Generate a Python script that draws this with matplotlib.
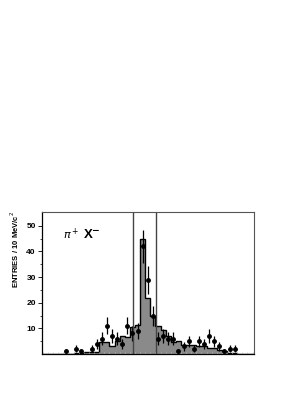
import numpy as np
import matplotlib.pyplot as plt

# histogram (MC / fit), one value per 10 MeV bin
hist_vals = [0, 0, 0, 0, 0, 0, 0.5, 0.5, 0.8, 0.8, 0.8, 4.5, 4.5, 3, 5, 7, 6.5,
             10.5, 11.5, 45, 22, 15, 11, 9.5, 7, 4.5, 5, 3.5, 3.5, 3.5, 3, 3,
             2.5, 2.5, 1.5, 1, 0.5, 0.5, 0, 0, 0, 0]

# data points: bin index, entries, error
pt_bins = [4, 6, 7, 9, 10, 11, 12, 13, 14, 15, 16, 17, 18, 19, 20, 21, 22,
           23, 24, 25, 26, 27, 28, 29, 30, 31, 32, 33, 34, 35, 36, 37]
pt_vals = [1, 2, 1, 2, 4, 6, 11, 7, 6, 4, 11, 8, 9, 42, 29, 15, 6,
           7, 6, 6, 1, 3, 5, 2, 5, 4, 7, 5, 3, 1, 2, 2]
pt_errs = [1, 1.4, 1, 1.4, 2, 2.4, 3.3, 2.6, 2.4, 2, 3.3, 2.8, 3, 6.5, 5.4, 3.9, 2.4,
           2.6, 2.4, 2.4, 1, 1.7, 2.2, 1.4, 2.2, 2, 2.6, 2.2, 1.7, 1, 1.4, 1.4]

# signal window
cut_lo, cut_hi = 17.54, 22.1

plt.rcParams['font.family'] = ['Liberation Sans', 'DejaVu Sans']

fig = plt.figure(figsize=(3.05, 3.95), dpi=100)
ax = fig.add_axes([0.1377, 0.1038, 0.6953, 0.3595])

edges = np.arange(len(hist_vals) + 1)
ax.stairs(hist_vals, edges, fill=True, color='#8a8a8a', lw=0)
ax.stairs(hist_vals, edges, color='black', lw=1.0)

centers = np.array(pt_bins) + 0.5
ax.errorbar(centers, pt_vals, yerr=pt_errs, fmt='o', color='black',
            markersize=2.5, elinewidth=0.9, capsize=0)

ax.axvline(cut_lo, color='#444444', lw=1.0)
ax.axvline(cut_hi, color='#444444', lw=1.0)

ax.set_xlim(-0.2, 41.3)
ax.set_ylim(0, 55.4)

ax.set_yticks([10, 20, 30, 40, 50])
ax.set_yticks(np.arange(5, 55, 5), minor=True)
ax.set_xticks([])
ax.set_xticks(np.arange(0, 42, 1), minor=True)
ax.tick_params(axis='y', which='major', direction='out', length=3, width=0.6,
               labelsize=6, pad=1.5)
ax.tick_params(axis='y', which='minor', direction='out', length=1.5, width=0.5)
ax.tick_params(axis='x', which='minor', direction='in', length=1.5, width=0.5,
               color='#bbbbbb')
for lab in ax.get_yticklabels():
    lab.set_fontweight('bold')

for s in ['left', 'bottom']:
    ax.spines[s].set_linewidth(0.9)
for s in ['top', 'right']:
    ax.spines[s].set_linewidth(0.8)
    ax.spines[s].set_color('#555555')

ax.text(0.1, 0.84, r'$\pi^+$', transform=ax.transAxes, fontsize=8, va='center')
ax.text(0.195, 0.84, r'X$^{\mathbf{-}}$', transform=ax.transAxes, fontsize=9.5,
        fontweight='bold', va='center')

fig.text(0.05, 0.465, 'ENTRIES / 10 MeV/c$^2$', rotation=90, fontsize=5.5,
         fontweight='bold', va='top', ha='center')

plt.savefig('out.png', dpi=100)
